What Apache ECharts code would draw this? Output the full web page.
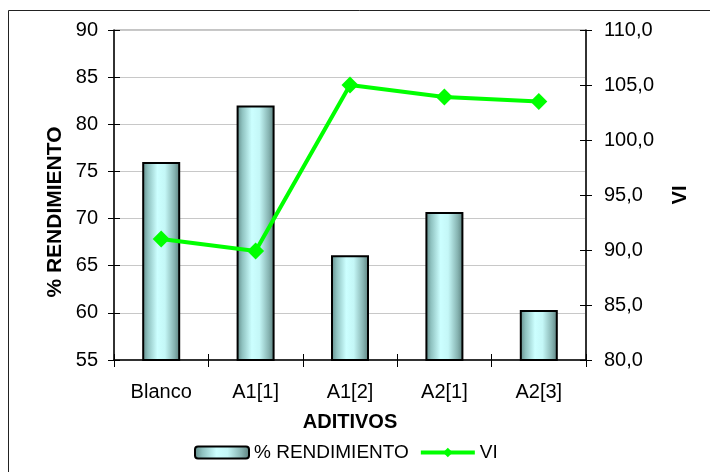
<!DOCTYPE html>
<html>
<head>
<meta charset="utf-8">
<script src="https://cdn.jsdelivr.net/npm/echarts@6/dist/echarts.min.js"></script>
<style>
  html, body { margin: 0; padding: 0; background: #fff; }
  #chart { width: 710px; height: 472px; }
</style>
</head>
<body>
<div id="chart"></div>
<script>
// Additive trials: yield (%) as bars on the left axis, VI as a line on the right axis
const categories = ['Blanco', 'A1[1]', 'A1[2]', 'A2[1]', 'A2[3]'];
const rendimiento = [76.0, 82.0, 66.1, 70.7, 60.3];
const vi = [91.0, 89.9, 105.0, 103.9, 103.5];
const leftTicks = { min: 55, max: 90, interval: 5 };
const rightTicks = { min: 80, max: 110, interval: 5 };

const FONT = '"Liberation Sans", Arial, sans-serif';

// cylinder-like shading across each bar
const barFill = new echarts.graphic.LinearGradient(0, 0, 1, 0, [
  { offset: 0, color: '#5e8785' },
  { offset: 0.15, color: '#8fc2c0' },
  { offset: 0.4, color: '#ccffff' },
  { offset: 0.6, color: '#c4f7f7' },
  { offset: 0.85, color: '#86b3b1' },
  { offset: 1, color: '#587c7a' }
]);

const chart = echarts.init(document.getElementById('chart'), null, { renderer: 'canvas' });

const tickLabel = { color: '#000', fontFamily: FONT, fontSize: 20 };
const axisLine = { show: true, lineStyle: { color: '#000', width: 1.5 } };
const titleStyle = { color: '#000', fontFamily: FONT, fontSize: 20, fontWeight: 'bold' };

// companion axes draw the inner half of each crossing tick mark
function innerTicks(base) {
  return Object.assign({}, base, {
    name: '',
    axisLine: { show: false },
    axisLabel: { show: false },
    splitLine: { show: false },
    axisTick: { show: true, inside: true, length: 6, lineStyle: { color: '#000', width: 1 } }
  });
}

const xBase = {
  type: 'category',
  data: categories,
  position: 'bottom',
  boundaryGap: true
};
const yLeftBase = Object.assign({ type: 'value', position: 'left' }, leftTicks);
const yRightBase = Object.assign({ type: 'value', position: 'right' }, rightTicks);

chart.setOption({
  backgroundColor: '#fff',
  animation: false,
  graphic: [
    {
      type: 'rect',
      shape: { x: 8.5, y: 10.5, width: 760, height: 520 },
      style: { fill: 'none', stroke: '#222', lineWidth: 1 },
      silent: true,
      z: -10
    },
    {
      // left axis title, set a little below the plot's middle
      type: 'text',
      x: 55,
      y: 212,
      rotation: Math.PI / 2,
      style: {
        text: '% RENDIMIENTO',
        fill: '#000',
        font: 'bold 21px "Liberation Sans", Arial, sans-serif',
        align: 'center',
        verticalAlign: 'middle'
      },
      silent: true
    }
  ],
  grid: {
    left: 114, right: 124, top: 30, bottom: 112,
    show: true, borderColor: '#8a8a8a', borderWidth: 1, backgroundColor: '#fff'
  },
  legend: {
    left: 189,
    top: 438,
    itemWidth: 54,
    itemHeight: 12,
    itemGap: 10,
    textStyle: { color: '#000', fontFamily: FONT, fontSize: 19 },
    data: [
      { name: '% RENDIMIENTO' },
      { name: 'VI', itemStyle: { color: '#00ff00' }, lineStyle: { color: '#00ff00', width: 4 } }
    ]
  },
  xAxis: [
    Object.assign({}, xBase, {
      name: 'ADITIVOS',
      nameLocation: 'middle',
      nameGap: 52,
      nameTextStyle: titleStyle,
      axisLine: axisLine,
      axisTick: { show: true, length: 7, lineStyle: { color: '#000', width: 1 } },
      axisLabel: Object.assign({ margin: 22 }, tickLabel),
      splitLine: { show: false }
    }),
    innerTicks(xBase)
  ],
  yAxis: [
    Object.assign({}, yLeftBase, {
      axisLine: axisLine,
      axisTick: { show: true, length: 6, lineStyle: { color: '#000', width: 1 } },
      axisLabel: Object.assign({ margin: 16 }, tickLabel),
      splitLine: { show: true, lineStyle: { color: '#c8c8c8', width: 1 } }
    }),
    Object.assign({}, yRightBase, {
      name: 'VI',
      nameLocation: 'middle',
      nameRotate: 90,
      nameGap: 84,
      nameTextStyle: titleStyle,
      axisLine: axisLine,
      axisTick: { show: true, length: 6, lineStyle: { color: '#000', width: 1 } },
      axisLabel: Object.assign({
        margin: 18,
        formatter: v => v.toFixed(1).replace('.', ',')
      }, tickLabel),
      splitLine: { show: false }
    }),
    innerTicks(yLeftBase),
    innerTicks(yRightBase)
  ],
  series: [
    {
      name: '% RENDIMIENTO',
      type: 'bar',
      xAxisIndex: 0,
      yAxisIndex: 0,
      barWidth: 38,
      data: rendimiento,
      itemStyle: { color: barFill, borderColor: '#000', borderWidth: 2 }
    },
    {
      name: 'VI',
      type: 'line',
      xAxisIndex: 0,
      yAxisIndex: 1,
      data: vi,
      symbol: 'diamond',
      symbolSize: 17,
      lineStyle: { color: '#00ff00', width: 4 },
      itemStyle: { color: '#00ff00' },
      z: 5
    }
  ]
});
</script>
</body>
</html>
